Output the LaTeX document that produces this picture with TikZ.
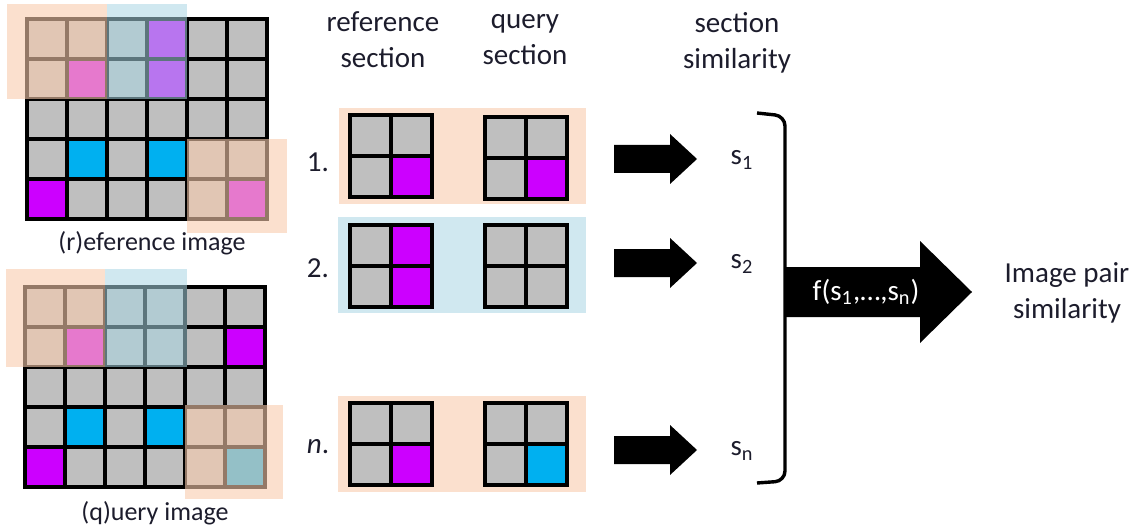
\documentclass[tikz,border=0pt]{standalone}
\usepackage{fontspec}
\setmainfont{Carlito}
\usetikzlibrary{positioning}
\definecolor{cellgray}{HTML}{BFBFBF}
\definecolor{cellmag}{HTML}{CC00FF}
\definecolor{cellcyan}{HTML}{00B0F0}
\definecolor{peach}{HTML}{F8CBAD}
\definecolor{paleblue}{HTML}{A9D6E3}
\definecolor{txt}{HTML}{1C1C2C}
% 2x2 section grid: origin, coloured cells c/r/colour
\newcommand{\minigrid}[2]{%
  \begin{scope}[shift={#1}]
    \fill[cellgray] (0,0) rectangle (82,82);
    \foreach \c/\r/\col in {#2} \fill[\col] (\c*41,\r*41) rectangle +(41,41);
    \foreach \c in {0,1} \foreach \r in {0,1} \draw[gridln] (\c*41,\r*41) rectangle +(41,41);
  \end{scope}}

\begin{document}
\begin{tikzpicture}[x=0.5pt, y=-0.5pt,
  gridln/.style={line width=1.9pt, line join=miter},
  peachsec/.style={fill=peach, fill opacity=0.6},
  bluesec/.style={fill=paleblue, fill opacity=0.55},
  lbl/.style={font=\fontsize{14.5}{18}\selectfont, align=center, text=txt, inner sep=0pt},
  imglbl/.style={font=\fontsize{13}{16}\selectfont, text=txt, inner sep=0pt},
]
\useasboundingbox (0,0) rectangle (1139,529);

% reference image
\begin{scope}[shift={(27,19)}]
  \fill[cellgray] (0,0) rectangle (240,200);
  \foreach \c/\r in {3/0,1/1,3/1,0/4,5/4} \fill[cellmag] (\c*40,\r*40) rectangle +(40,40);
  \foreach \c/\r in {1/3,3/3} \fill[cellcyan] (\c*40,\r*40) rectangle +(40,40);
  \foreach \c in {0,...,5} \foreach \r in {0,...,4} \draw[gridln] (\c*40,\r*40) rectangle +(40,40);
  \fill[peachsec] (-20,-15) rectangle (80,80);
  \fill[bluesec] (80,-15) rectangle (160,80);
  \fill[peachsec] (160,120) rectangle (260,214);
\end{scope}
\node[imglbl] (reflbl) at (152,243) {(r)eference image};

% query image
\begin{scope}[shift={(25,287)}]
  \fill[cellgray] (0,0) rectangle (240,200);
  \foreach \c/\r in {1/1,5/1,0/4} \fill[cellmag] (\c*40,\r*40) rectangle +(40,40);
  \foreach \c/\r in {1/3,3/3,5/4} \fill[cellcyan] (\c*40,\r*40) rectangle +(40,40);
  \foreach \c in {0,...,5} \foreach \r in {0,...,4} \draw[gridln] (\c*40,\r*40) rectangle +(40,40);
  \fill[peachsec] (-19,-18) rectangle (80,80);
  \fill[bluesec] (80,-18) rectangle (162,80);
  \fill[peachsec] (160,118) rectangle (258,212);
\end{scope}
\node[imglbl] (qrylbl) at (155,513) {(q)uery image};

% column heads
\node[lbl] (refhead) at (383,40) {reference\\section};
\node[lbl] (qryhead) at (525,40) {query\\section};
\node[lbl] (simhead) at (737,43) {section\\similarity};

% sections
\fill[peachsec] (339,108) rectangle (586,204);
\fill[bluesec] (338,217) rectangle (586,313);
\fill[peachsec] (338,396) rectangle (586,492);
\minigrid{(350,115)}{1/1/cellmag}
\minigrid{(485,117)}{1/1/cellmag}
\minigrid{(350,225)}{1/0/cellmag,1/1/cellmag}
\minigrid{(485,225)}{0/0/cellgray}
\minigrid{(350,403)}{1/1/cellmag}
\minigrid{(485,403)}{1/1/cellcyan}
\node[lbl] (num1) at (318,162) {1.};
\node[lbl] (num2) at (318,268) {2.};
\node[lbl] (numn) at (318,447) {\textit{n}.};

% block arrows to the similarities
\foreach \y in {159,263,450}
  \fill (614,\y-14) -- (670,\y-14) -- (670,\y-25) -- (697,\y)
        -- (670,\y+25) -- (670,\y+14) -- (614,\y+14) -- cycle;
\node[lbl] (s1) at (742,160) {s\textsubscript{1}};
\node[lbl] (s2) at (742,264) {s\textsubscript{2}};
\node[lbl] (sn) at (742,451) {s\textsubscript{n}};

% bracket and combining arrow
\draw[line width=1.7pt, rounded corners=5] (757,113) -- (785,116) -- (785,481) -- (757,483);
\fill (785,267) -- (920,267) -- (920,241) -- (972,292) -- (920,343) -- (920,317) -- (785,317) -- cycle;
\node[lbl, text=white] (fnode) at (866,292) {f(s\textsubscript{1},…,s\textsubscript{n})};
\node[lbl] (result) at (1067,293) {Image pair\\similarity};
\end{tikzpicture}
\end{document}
